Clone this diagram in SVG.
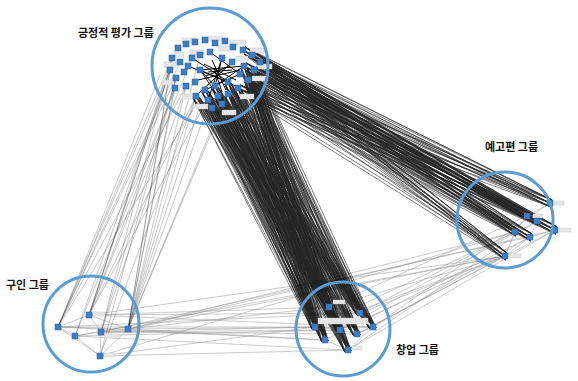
<svg xmlns="http://www.w3.org/2000/svg" xmlns:xlink="http://www.w3.org/1999/xlink" width="578" height="381" viewBox="0 0 578 381">
<style>
.c{fill:none;stroke:#5b9bd5;stroke-width:3}
.n{fill:#3d7fc6;stroke:#2a5f9e;stroke-width:0.5}
.lb{fill:#e6e6e6;stroke:#c4c4c4;stroke-width:0.4}
.e1{stroke:#000;stroke-width:0.6;fill:none;opacity:0.85}
.e3{stroke:#333;stroke-width:0.4;fill:none;opacity:0.7}
.e2{stroke:#8a8a8a;stroke-width:0.45;fill:none}
.e4{stroke:#000;stroke-width:1;fill:none}
.t{font-family:"Noto Sans CJK KR","Noto Sans",sans-serif;font-size:11px;font-weight:bold;fill:#111}
</style>
<defs>
<path id="tb" d="M205 90L329 307M205 90L360 313M205 90L315 327M205 90L340 330M205 90L357 334M205 90L373 327M205 90L325 340M205 90L348 350
M215 86L329 307M215 86L360 313M215 86L315 327M215 86L340 330M215 86L357 334M215 86L373 327M215 86L325 340M215 86L348 350
M228 82L329 307M228 82L360 313M228 82L315 327M228 82L340 330M228 82L357 334M228 82L373 327M228 82L325 340M228 82L348 350
M238 88L329 307M238 88L360 313M238 88L315 327M238 88L340 330M238 88L357 334M238 88L373 327M238 88L325 340M238 88L348 350
M248 80L329 307M248 80L360 313M248 80L315 327M248 80L340 330M248 80L357 334M248 80L373 327M248 80L325 340M248 80L348 350
M196 96L329 307M196 96L360 313M196 96L315 327M196 96L340 330M196 96L357 334M196 96L373 327M196 96L325 340M196 96L348 350
M208 100L329 307M208 100L360 313M208 100L315 327M208 100L340 330M208 100L357 334M208 100L373 327M208 100L325 340M208 100L348 350
M218 96L329 307M218 96L360 313M218 96L315 327M218 96L340 330M218 96L357 334M218 96L373 327M218 96L325 340M218 96L348 350
M228 94L329 307M228 94L360 313M228 94L315 327M228 94L340 330M228 94L357 334M228 94L373 327M228 94L325 340M228 94L348 350
M254 70L329 307M254 70L360 313M254 70L315 327M254 70L340 330M254 70L357 334M254 70L373 327M254 70L325 340M254 70L348 350
M244 66L329 307M244 66L360 313M244 66L315 327M244 66L340 330M244 66L357 334M244 66L373 327M244 66L325 340M244 66L348 350"/>
<path id="tr" d="M254 70L550 203M254 70L527 216M254 70L537 221M254 70L555 230M254 70L515 232M254 70L530 237M254 70L505 256
M244 66L550 203M244 66L527 216M244 66L537 221M244 66L555 230M244 66L515 232M244 66L530 237M244 66L505 256
M260 62L550 203M260 62L527 216M260 62L537 221M260 62L555 230M260 62L515 232M260 62L530 237M260 62L505 256
M252 55L550 203M252 55L527 216M252 55L537 221M252 55L555 230M252 55L515 232M252 55L530 237M252 55L505 256
M243 50L550 203M243 50L527 216M243 50L537 221M243 50L555 230M243 50L515 232M243 50L530 237M243 50L505 256
M248 80L550 203M248 80L527 216M248 80L537 221M248 80L555 230M248 80L515 232M248 80L530 237M248 80L505 256
M238 88L550 203M238 88L527 216M238 88L537 221M238 88L555 230M238 88L515 232M238 88L530 237M238 88L505 256"/>
</defs>
<g id="connectors">
<g class="e2">
<path d="M58 327L315 327M58 327L325 340M89 315L329 307M89 315L360 313M75 336L340 330M75 336L348 350M101 332L357 334M101 332L315 327M128 329L329 307M128 329L373 327M128 329L325 340M100 356L348 350M100 356L315 327M89 315L373 327M101 332L340 330M58 327L360 313"/>
<path d="M128 329L505 256M128 329L515 232M101 332L530 237M89 315L505 256M128 329L555 230M100 356L515 232M75 336L505 256"/>
<path d="M329 307L505 256M360 313L515 232M373 327L530 237M357 334L555 230M340 330L505 256M315 327L515 232M348 350L537 221M360 313L505 256M373 327L550 203M325 340L530 237M329 307L527 216M357 334L505 256M348 350L555 230M340 330L537 221M315 327L505 256"/>
<path d="M550 203L527 216M550 203L555 230M527 216L537 221M537 221L555 230M527 216L515 232M515 232L530 237M530 237L555 230M515 232L505 256M537 221L530 237M527 216L555 230M505 256L530 237"/>
<path d="M58 327L89 315M58 327L75 336M89 315L101 332M75 336L101 332M101 332L128 329M75 336L100 356M101 332L100 356M89 315L128 329M58 327L128 329M100 356L128 329M58 327L100 356"/>
<path d="M329 307L360 313M315 327L340 330M340 330L357 334M357 334L373 327M325 340L348 350M315 327L325 340M348 350L373 327M329 307L315 327M360 313L373 327M340 330L348 350M315 327L373 327"/>
</g>
<g class="e3">
<path d="M172 58L58 327M172 58L89 315M172 58L101 332M172 58L128 329M170 70L58 327M170 70L75 336M170 70L89 315M170 70L128 329M176 78L58 327M176 78L100 356M176 78L101 332M176 78L128 329M175 88L89 315M175 88L75 336M175 88L128 329M186 86L58 327M186 86L101 332M186 86L128 329M196 96L89 315M196 96L128 329M196 96L100 356M205 90L128 329M205 90L58 327M215 86L89 315M215 86L128 329M228 94L128 329M180 62L58 327M192 58L89 315M200 55L128 329M160 75L58 327M165 85L89 315M222 104L128 329"/>
</g>
<g class="e1">
<use xlink:href="#tb"/>
<use xlink:href="#tb" transform="translate(3,1)"/>
<use xlink:href="#tb" transform="translate(-3,2)"/>
<use xlink:href="#tr"/>
<use xlink:href="#tr" transform="translate(1,4)"/>
<use xlink:href="#tr" transform="translate(2,-3)"/>
</g>
<g class="e4">
<path d="M200 70L215 86M200 70L228 82M210 52L240 74M222 58L215 86M188 66L228 82M192 58L238 88M205 90L240 74M215 86L244 66M200 70L244 66M196 96L232 62M208 100L222 58M218 96L200 70M212 60L226 90M204 64L236 80M208 72L232 70M214 68L222 92M198 80L240 70M206 76L230 66"/>
</g>
</g>
<g id="cluster-top">
<g class="lb">
<rect x="182" y="38" width="14" height="5"/><rect x="208" y="36" width="14" height="5"/><rect x="230" y="40" width="16" height="5"/><rect x="250" y="48" width="14" height="5"/><rect x="258" y="64" width="14" height="5"/><rect x="252" y="76" width="16" height="5"/><rect x="240" y="94" width="14" height="5"/><rect x="222" y="110" width="14" height="5"/><rect x="196" y="104" width="12" height="5"/><rect x="180" y="94" width="14" height="5"/><rect x="162" y="80" width="12" height="5"/><rect x="164" y="62" width="12" height="5"/><rect x="190" y="50" width="14" height="5"/><rect x="236" y="56" width="12" height="5"/><rect x="174" y="52" width="10" height="5"/><rect x="218" y="46" width="12" height="5"/>
</g>
<g class="n">
<rect x="175" y="45" width="6" height="6"/><rect x="183" y="41" width="6" height="6"/><rect x="192" y="39" width="6" height="6"/><rect x="202" y="37" width="6" height="6"/><rect x="212" y="40" width="6" height="6"/><rect x="222" y="38" width="6" height="6"/><rect x="230" y="44" width="6" height="6"/><rect x="240" y="47" width="6" height="6"/><rect x="249" y="52" width="6" height="6"/><rect x="169" y="55" width="6" height="6"/><rect x="177" y="59" width="6" height="6"/><rect x="167" y="67" width="6" height="6"/><rect x="173" y="75" width="6" height="6"/><rect x="181" y="69" width="6" height="6"/><rect x="189" y="55" width="6" height="6"/><rect x="197" y="52" width="6" height="6"/><rect x="207" y="49" width="6" height="6"/><rect x="219" y="55" width="6" height="6"/><rect x="229" y="59" width="6" height="6"/><rect x="241" y="63" width="6" height="6"/><rect x="251" y="67" width="6" height="6"/><rect x="183" y="83" width="6" height="6"/><rect x="192" y="79" width="6" height="6"/><rect x="202" y="87" width="6" height="6"/><rect x="212" y="83" width="6" height="6"/><rect x="225" y="79" width="6" height="6"/><rect x="235" y="85" width="6" height="6"/><rect x="245" y="77" width="6" height="6"/><rect x="193" y="93" width="6" height="6"/><rect x="205" y="97" width="6" height="6"/><rect x="215" y="93" width="6" height="6"/><rect x="225" y="91" width="6" height="6"/><rect x="185" y="63" width="6" height="6"/><rect x="237" y="71" width="6" height="6"/><rect x="197" y="67" width="6" height="6"/><rect x="257" y="59" width="6" height="6"/><rect x="172" y="85" width="6" height="6"/><rect x="209" y="105" width="6" height="6"/><rect x="219" y="101" width="6" height="6"/>
</g>
<circle class="c" cx="210" cy="66" r="58"/>
<text class="t" x="78" y="37">긍정적 평가 그룹</text>
</g>
<g id="cluster-right">
<g class="lb"><rect x="554" y="201" width="10" height="4"/><rect x="559" y="228" width="12" height="4"/><rect x="509" y="254" width="12" height="4"/><rect x="533" y="214" width="10" height="4"/></g>
<g class="n">
<rect x="547" y="200" width="6" height="6"/><rect x="524" y="213" width="6" height="6"/><rect x="534" y="218" width="6" height="6"/><rect x="552" y="227" width="6" height="6"/><rect x="512" y="229" width="6" height="6"/><rect x="527" y="234" width="6" height="6"/><rect x="502" y="253" width="6" height="6"/>
</g>
<circle class="c" cx="505" cy="220" r="48"/>
<text class="t" x="485" y="151">예고편 그룹</text>
</g>
<g id="cluster-left">
<g class="lb"><rect x="93" y="312" width="12" height="4"/><rect x="105" y="334" width="14" height="4"/><rect x="104" y="353" width="10" height="4"/></g>
<g class="n">
<rect x="55" y="324" width="6" height="6"/><rect x="86" y="312" width="6" height="6"/><rect x="72" y="333" width="6" height="6"/><rect x="98" y="329" width="6" height="6"/><rect x="125" y="326" width="6" height="6"/><rect x="97" y="353" width="6" height="6"/>
</g>
<circle class="c" cx="91" cy="324" r="48"/>
<text class="t" x="6" y="289">구인 그룹</text>
</g>
<g id="cluster-bottom">
<g class="lb"><rect x="318" y="318" width="50" height="6"/><rect x="333" y="300" width="12" height="4"/><rect x="352" y="346" width="10" height="4"/></g>
<g class="n">
<rect x="326" y="304" width="6" height="6"/><rect x="357" y="310" width="6" height="6"/><rect x="312" y="324" width="6" height="6"/><rect x="337" y="327" width="6" height="6"/><rect x="354" y="331" width="6" height="6"/><rect x="370" y="324" width="6" height="6"/><rect x="322" y="337" width="6" height="6"/><rect x="345" y="347" width="6" height="6"/>
</g>
<circle class="c" cx="343" cy="329" r="47"/>
<text class="t" x="396" y="354">창업 그룹</text>
</g>
</svg>
